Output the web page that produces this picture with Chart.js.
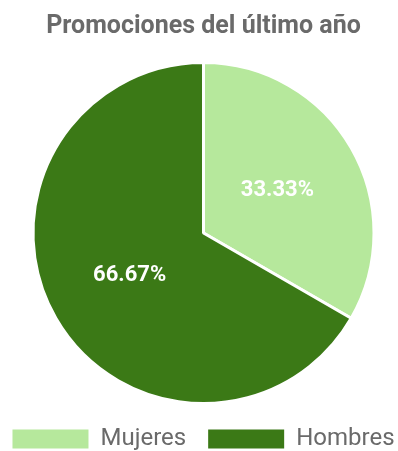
<!DOCTYPE html>
<html>
<head>
<meta charset="utf-8">
<script src="https://cdn.jsdelivr.net/npm/chart.js@4"></script>
<style>
html,body{margin:0;padding:0;background:#fff;overflow:hidden;width:398px;height:451px;}
#wrap{position:relative;width:398px;height:451px;overflow:hidden;}
#c{position:absolute;left:-21px;top:0;}
</style>
</head>
<body>
<div id="wrap"><canvas id="c" width="440" height="451"></canvas></div>
<script>
const titleText = 'Promociones del último año';
const categories = ['Mujeres', 'Hombres'];
const values = [33.33, 66.67];
const colors = ['#b6e89c', '#3b7916'];

const labelPlugin = {
  id: 'sliceLabels',
  afterDatasetsDraw(chart) {
    const ctx = chart.ctx;
    const meta = chart.getDatasetMeta(0);
    const data = chart.data.datasets[0].data;
    const total = data.reduce((a, b) => a + b, 0);
    ctx.save();
    ctx.fillStyle = '#ffffff';
    ctx.font = 'bold 22px Roboto, Arial, sans-serif';
    ctx.textAlign = 'center';
    ctx.textBaseline = 'middle';
    meta.data.forEach((arc, i) => {
      const p = arc.getCenterPoint();
      const pct = (data[i] / total * 100).toFixed(2) + '%';
      ctx.fillText(pct, p.x, p.y);
    });
    ctx.restore();
  }
};

new Chart(document.getElementById('c'), {
  type: 'pie',
  data: {
    labels: categories,
    datasets: [{
      data: values,
      backgroundColor: colors,
      borderColor: '#ffffff',
      borderWidth: 3
    }]
  },
  options: {
    responsive: false,
    animation: false,
    layout: { padding: { left: 9, right: 0, top: 0, bottom: -10 } },
    plugins: {
      tooltip: { enabled: false },
      title: {
        display: true,
        text: titleText,
        color: '#6a6a6a',
        font: { family: 'Roboto', size: 25, weight: 'bold' },
        padding: { top: 12, bottom: 19 }
      },
      legend: {
        position: 'bottom',
        labels: {
          boxWidth: 76,
          boxHeight: 19,
          padding: 22,
          color: '#6a6a6a',
          font: { family: 'Roboto', size: 24 },
          generateLabels(chart) {
            const ds = chart.data.datasets[0];
            return chart.data.labels.map((l, i) => ({
              text: l,
              fillStyle: ds.backgroundColor[i],
              strokeStyle: ds.backgroundColor[i],
              lineWidth: 0,
              fontColor: '#6a6a6a',
              hidden: false,
              index: i
            }));
          }
        }
      }
    }
  },
  plugins: [labelPlugin]
});
</script>
</body>
</html>
